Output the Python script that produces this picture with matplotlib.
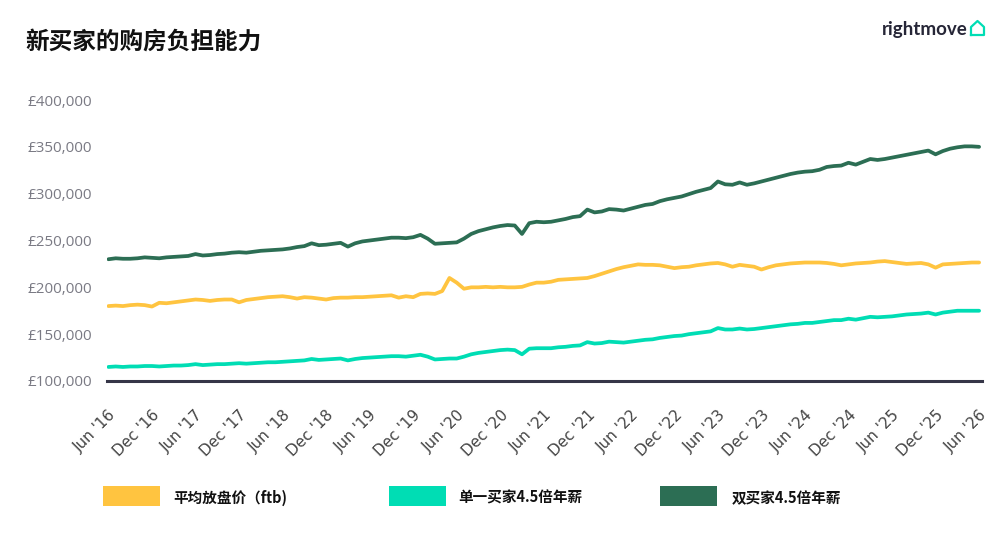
import matplotlib
matplotlib.use("Agg")
import matplotlib.pyplot as plt
from matplotlib.patches import Rectangle
from matplotlib.lines import Line2D
from matplotlib.ticker import FuncFormatter

# monthly values, Jun 2016 .. Jun 2026 (in £000)
double_buyer = [
    230, 231, 230.5, 230.5, 231, 232, 231.5, 231, 232, 232.5, 233, 233.5,
    235.5, 234, 234.5, 235.5, 236, 237, 237.5, 237, 238, 239, 239.5, 240,
    240.5, 241.5, 243, 244, 247, 245, 245.5, 246.5, 247.5, 243.5, 247, 249,
    250, 251, 252, 253, 253, 252.5, 253.5, 256, 252, 246.5, 247, 247.5,
    248, 252, 257, 260, 262, 264, 265.5, 266.5, 266, 257, 268.5, 270,
    269.5, 270, 271.5, 273, 275, 276, 283, 280, 281, 283.5, 283, 282,
    284, 286, 288, 289, 292, 294, 295.5, 297, 299.5, 302, 304, 306,
    313, 310, 309.5, 312, 309.5, 311, 313, 315, 317, 319, 321, 322.5,
    323.5, 324, 325.5, 328.5, 329.5, 330, 333, 331, 334, 337, 336, 337,
    338.5, 340, 341.5, 343, 344.5, 346, 342, 345.5, 348, 349.5, 350.5, 350.5, 350,
]
single_buyer = [
    115, 115.5, 115, 115.5, 115.5, 116, 116, 115.5, 116, 116.5, 116.5, 117,
    118, 117, 117.5, 118, 118, 118.5, 119, 118.5, 119, 119.5, 120, 120,
    120.5, 121, 121.5, 122, 123.5, 122.5, 123, 123.5, 124, 122, 123.5, 124.5,
    125, 125.5, 126, 126.5, 126.5, 126, 127, 128, 126, 123, 123.5, 124,
    124, 126, 128.5, 130, 131, 132, 133, 133.5, 133, 128.5, 134.5, 135,
    135, 135, 136, 136.5, 137.5, 138, 141.5, 140, 140.5, 142, 141.5, 141,
    142, 143, 144, 144.5, 146, 147, 148, 148.5, 150, 151, 152, 153,
    156.5, 155, 155, 156, 155, 155.5, 156.5, 157.5, 158.5, 159.5, 160.5, 161,
    162, 162, 163, 164, 165, 165, 166.5, 165.5, 167, 168.5, 168, 168.5,
    169, 170, 171, 171.5, 172, 173, 171, 173, 174, 175, 175, 175, 175,
]
asking_price = [
    180, 180.5, 180, 181, 181.5, 181, 179.5, 183.5, 183, 184, 185, 186,
    187, 186.5, 185.5, 186.5, 187, 187, 184, 186.5, 187.5, 188.5, 189.5, 190,
    190.5, 189.5, 188, 189.5, 189, 188, 187, 188.5, 189, 189, 189.5, 189.5,
    190, 190.5, 191, 191.5, 189, 190.5, 189.5, 193, 193.5, 193, 196, 210,
    205, 198.5, 200, 200, 200.5, 200, 200.5, 200, 200, 200.5, 203, 205,
    205, 206, 208, 208.5, 209, 209.5, 210, 212, 214.5, 217, 219.5, 221.5,
    223, 224.5, 224, 224, 223.5, 222, 220.5, 221.5, 222, 223.5, 224.5, 225.5,
    226, 224.5, 222, 224, 223, 222, 219, 221.5, 223.5, 224.5, 225.5, 226,
    226.5, 226.5, 226.5, 226, 225, 223.5, 224.5, 225.5, 226, 226.5, 227.5, 228,
    227, 226, 225, 225.5, 226, 224.5, 221, 224.5, 225, 225.5, 226, 226.5, 226.5,
]

tick_labels = ["Jun '16", "Dec '16", "Jun '17", "Dec '17", "Jun '18", "Dec '18",
               "Jun '19", "Dec '19", "Jun '20", "Dec '20", "Jun '21", "Dec '21",
               "Jun '22", "Dec '22", "Jun '23", "Dec '23", "Jun '24", "Dec '24",
               "Jun '25", "Dec '25", "Jun '26"]

series_names = ["平均放盘价（ftb)", "单一买家4.5倍年薪", "双买家4.5倍年薪"]
colors = ["#FFC440", "#00DDB4", "#2C6E54"]

plt.rcParams['font.family'] = ['Noto Sans CJK SC', 'DejaVu Sans']

W, H = 1004, 547
fig = plt.figure(figsize=(W / 100, H / 100), dpi=100)
ax = fig.add_axes([107 / W, 1 - 381 / H, 875 / W, 281 / H])

months = list(range(len(asking_price)))
for vals, c in zip([asking_price, single_buyer, double_buyer], colors):
    ax.plot(months, [v * 1000 for v in vals], color=c, lw=2.7,
            solid_joinstyle='round', solid_capstyle='round')

ax.set_xlim(-0.2, 120.4)
ax.set_ylim(100000, 400000)
ax.set_yticks(range(100000, 400001, 50000))
ax.yaxis.set_major_formatter(FuncFormatter(lambda v, p: "£{:,.0f}".format(v)))
for lab in ax.get_yticklabels():
    lab.set_family(['Open Sans', 'DejaVu Sans'])
ax.tick_params(axis='y', length=0, pad=11, labelsize=11, labelcolor='#7a7a84')

ax.set_xticks(range(0, 121, 6))
ax.set_xticklabels(tick_labels, rotation=45, ha='right', rotation_mode='anchor',
                   family='DejaVu Sans', fontsize=11, color='#444444')
ax.tick_params(axis='x', length=0, pad=19)

for s in ['top', 'right', 'left']:
    ax.spines[s].set_visible(False)
ax.spines['bottom'].set_color('#363648')
ax.spines['bottom'].set_linewidth(2.2)

# title
fig.text(25 / W, 1 - 42 / H, "新买家的购房负担能力", fontsize=17, fontweight='bold',
         ha='left', va='center', color='#111111')

# logo
fig.text(968 / W, 1 - 30 / H, "rightmove", fontsize=13.5, fontweight='bold',
         family=['Lato', 'DejaVu Sans'], ha='right', va='center', color='#262637')
hx = [971, 971, 977.5, 984, 984, 971]
hy = [35, 27, 21, 27, 35, 35]
fig.add_artist(Line2D([x / W for x in hx], [1 - y / H for y in hy],
                      color='#00DDB4', lw=1.6, solid_joinstyle='round'))

# legend
patch_x = [103, 389, 660]
text_x = [173, 458, 732]
for px, tx, name, c in zip(patch_x, text_x, series_names, colors):
    fig.add_artist(Rectangle((px / W, 1 - 506 / H), 57 / W, 20 / H,
                             facecolor=c, edgecolor='none'))
    fig.text(tx / W, 1 - 498 / H, name, fontsize=10.5, fontweight='bold',
             ha='left', va='center', color='#111111')

fig.savefig("out.png", dpi=100)
